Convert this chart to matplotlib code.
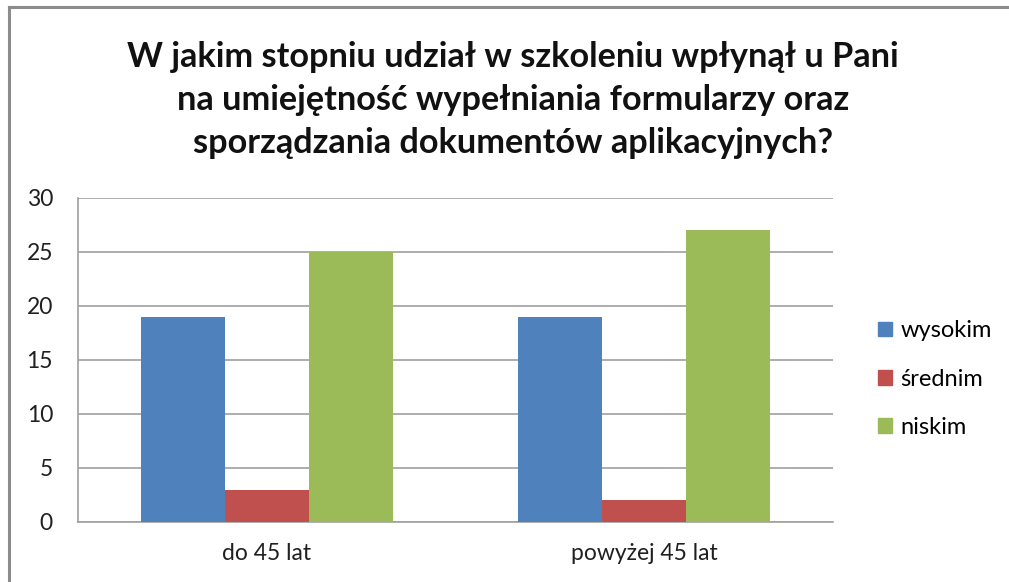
import matplotlib
matplotlib.use("Agg")
import matplotlib.pyplot as plt
import numpy as np
from matplotlib.lines import Line2D

categories = ["do 45 lat", "powyżej 45 lat"]
series_names = ["wysokim", "średnim", "niskim"]
wysokim = [19, 19]
srednim = [3, 2]
niskim = [25, 27]
series_values = [wysokim, srednim, niskim]
colors = ["#4F81BD", "#C0504D", "#9BBB59"]
yticks = [0, 5, 10, 15, 20, 25, 30]
title = ("W jakim stopniu udział w szkoleniu wpłynął u Pani\n"
         "na umiejętność wypełniania formularzy oraz\n"
         "sporządzania dokumentów aplikacyjnych?")

plt.rcParams['font.family'] = ['Lato', 'DejaVu Sans']

W, H = 1009, 582
fig = plt.figure(figsize=(W / 100, H / 100), dpi=100)
ax = fig.add_axes([78 / W, 1 - 522 / H, (833 - 78) / W, (522 - 198) / H])

x = np.arange(len(categories))
bw = 1 / 4.5
for i, (name, vals, c) in enumerate(zip(series_names, series_values, colors)):
    ax.bar(x + (i - 1) * bw, vals, width=bw, color=c, label=name, zorder=3)

ax.set_xlim(-0.5, len(categories) - 0.5)
ax.set_ylim(0, 30)
ax.set_yticks(yticks)
ax.set_xticks(x)
ax.set_xticklabels(categories, fontsize=16.5, color="#202020")
ax.tick_params(axis='y', labelsize=16.5, colors="#202020", length=0, pad=18)
ax.tick_params(axis='x', length=0, pad=15)
ax.grid(axis='y', color="#A0A0A0", linewidth=1.2, zorder=0)
for s in ["top", "right"]:
    ax.spines[s].set_visible(False)
ax.spines["left"].set_color("#A0A0A0")
ax.spines["bottom"].set_color("#A0A0A0")
ax.spines["left"].set_linewidth(1.2)
ax.spines["bottom"].set_linewidth(1.2)

fig.text(513 / W, 1 - 100 / H, title, ha="center", va="center",
         fontsize=24.7, fontweight="bold", linespacing=1.42, color="#111111")

handles = [plt.Rectangle((0, 0), 1, 1, color=c) for c in colors]
fig.legend(handles, series_names, loc="center left",
           bbox_to_anchor=(869 / W, 1 - 379 / H), frameon=False,
           fontsize=17, handlelength=0.58, handleheight=0.58,
           handletextpad=0.35, labelspacing=1.15, borderaxespad=0)

# outer chart frame
fig.add_artist(Line2D([9 / W, 9 / W], [0, 1 - 7 / H], color="#8C8C8C", lw=2.2,
                      transform=fig.transFigure))
fig.add_artist(Line2D([9 / W, 1], [1 - 7 / H, 1 - 7 / H], color="#8C8C8C", lw=2.2,
                      transform=fig.transFigure))

fig.savefig("out.png", dpi=100)
